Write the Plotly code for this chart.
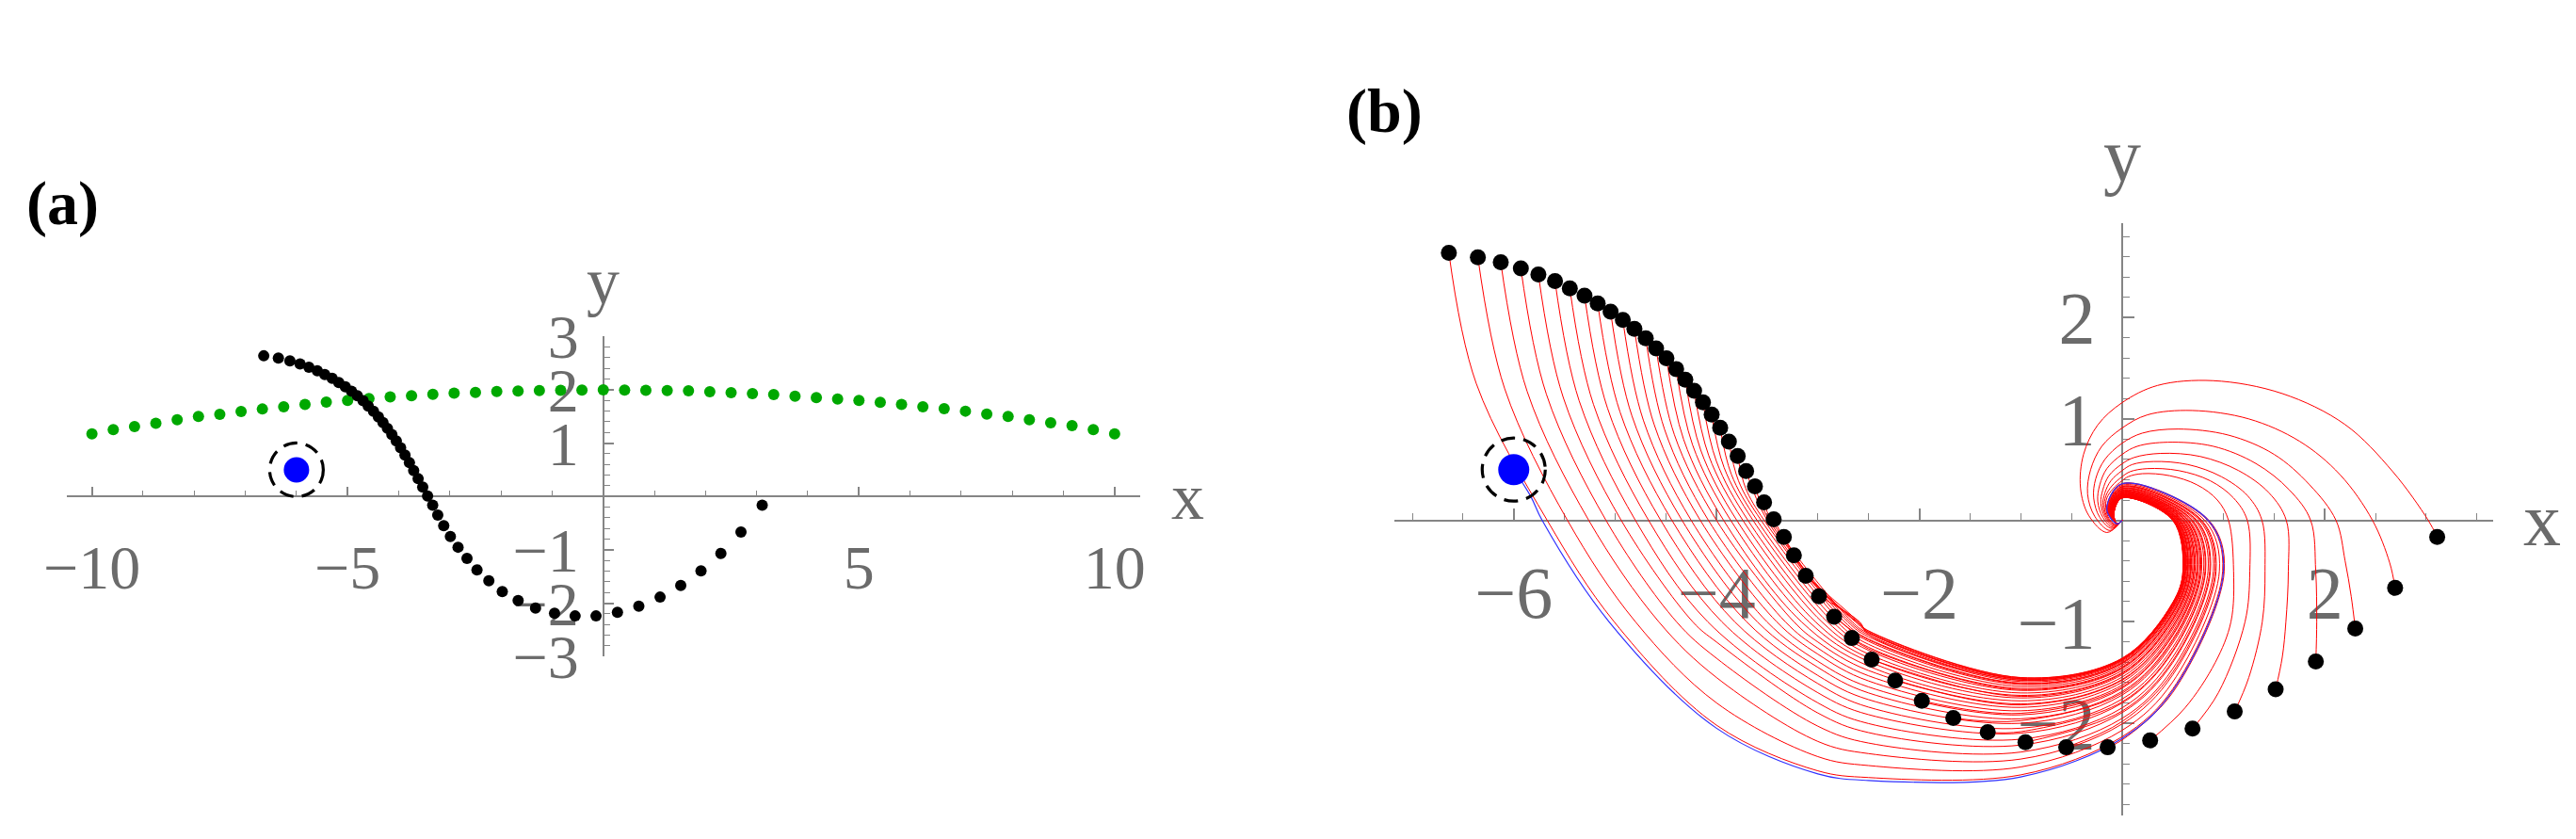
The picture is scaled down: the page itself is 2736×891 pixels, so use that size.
import plotly.graph_objects as go

W, H = 2736, 891

# ---------------- data ----------------
BLACK_X = [-6.640, -6.354, -6.128, -5.930, -5.757, -5.593, -5.447, -5.302, -5.172, -5.045,
           -4.924, -4.810, -4.698, -4.596, -4.494, -4.398, -4.308, -4.221, -4.134, -4.048,
           -3.964, -3.878, -3.791, -3.708, -3.621, -3.531, -3.436, -3.336, -3.237, -3.120,
           -2.990, -2.840, -2.665, -2.470, -2.238, -1.975, -1.665, -1.325, -0.953, -0.551,
           -0.142, 0.277, 0.695, 1.111, 1.515, 1.911, 2.300, 2.693, 3.108]
BLACK_Y = [2.637, 2.594, 2.544, 2.485, 2.423, 2.358, 2.287, 2.216, 2.138, 2.058,
           1.975, 1.888, 1.795, 1.696, 1.597, 1.492, 1.386, 1.278, 1.163, 1.043,
           0.913, 0.777, 0.634, 0.486, 0.334, 0.178, 0.009, -0.164, -0.346, -0.548,
           -0.749, -0.950, -1.161, -1.374, -1.579, -1.780, -1.950, -2.089, -2.188, -2.238,
           -2.238, -2.170, -2.054, -1.885, -1.665, -1.393, -1.068, -0.666, -0.164]

GREEN_X = [-10.0, -9.583, -9.167, -8.75, -8.333, -7.917, -7.5, -7.083, -6.667, -6.25,
           -5.833, -5.417, -5.0, -4.583, -4.167, -3.75, -3.333, -2.917, -2.5, -2.083,
           -1.667, -1.25, -0.833, -0.417, 0.0, 0.417, 0.833, 1.25, 1.667, 2.083,
           2.5, 2.917, 3.333, 3.75, 4.167, 4.583, 5.0, 5.417, 5.833, 6.25,
           6.667, 7.083, 7.5, 7.917, 8.333, 8.75, 9.167, 9.583, 10.0]
GREEN_Y = [1.176, 1.253, 1.312, 1.371, 1.441, 1.500, 1.540, 1.594, 1.640, 1.682,
           1.724, 1.768, 1.800, 1.838, 1.868, 1.890, 1.915, 1.938, 1.950, 1.968,
           1.978, 1.988, 1.992, 1.996, 2.000, 1.996, 1.992, 1.988, 1.982, 1.965,
           1.947, 1.929, 1.912, 1.882, 1.853, 1.829, 1.800, 1.765, 1.724, 1.682,
           1.647, 1.600, 1.547, 1.500, 1.441, 1.382, 1.329, 1.253, 1.176]

BLUE_X = [-6.0]
BLUE_Y = [0.5]

# Left family of trajectories: index 0 = blue point, 1..41 = black dots 1..41
START_X = BLUE_X + BLACK_X[:41]
START_Y = BLUE_Y + BLACK_Y[:41]
N = None
MID_X = [-5.83, -6.37, -6.089, -5.868, -5.678, -5.512, -5.355, -5.214, -5.076, -4.952, -4.834,
         -4.722, -4.615, -4.513, -4.417, -4.325, -4.237, -4.156, -4.077, -4.001, -3.926,
         -3.855, -3.783, -3.713, N, N, N, -3.09, -3.05, -3.0, N,
         N, N, N, N, N, N, N, N, N, N, N]
MID_Y = [0.232, 1.35, 1.297, 1.272, 1.243, 1.212, 1.179, 1.144, 1.108, 1.069, 1.029,
         0.988, 0.944, 0.898, 0.848, 0.799, 0.746, 0.693, 0.639, 0.582, 0.522,
         0.457, 0.389, 0.317, N, N, N, -0.572, -0.60, -0.66, N,
         N, N, N, N, N, N, N, N, N, N, N]
# x where each curve crosses y = 0 (left side)
X_AT_Y0 = [-5.72, -5.67, -5.47, -5.26, -5.09, -4.94, -4.80, -4.67, -4.55, -4.44, -4.34,
           -4.25, -4.16, -4.08, -4.00, -3.93, -3.86, -3.80, -3.74, -3.69, -3.64,
           -3.60, -3.56, -3.53, -3.50, -3.48, -3.46, N, N, N, N,
           N, N, N, N, N, N, N, N, N, N, N]
# x where each curve crosses y = -1
X_AT_YM1 = [-5.06, -5.01, -4.80, -4.57, -4.395, -4.235, -4.087, -3.948, -3.821, -3.704, -3.598,
            -3.503, -3.407, -3.322, -3.237, -3.163, -3.089, -3.025, -2.962, -2.908, -2.855,
            -2.813, -2.77, -2.738, -2.706, -2.684, -2.662, -2.63, -2.62, -2.61, -2.60,
            -2.59, N, N, N, N, N, N, N, N, N, N]
# y at x = -4
Y_AT_XM4 = [-2.05, -2.02, -1.80, -1.55, -1.36, -1.20] + [N] * 36
# y at x = -3
Y_AT_XM3 = [-2.50, -2.47, -2.33, -2.18, -2.03, -1.90, -1.80, -1.70, -1.61, -1.53, -1.45,
            -1.39, -1.32, -1.26, -1.20] + [N] * 27
# y at x = -2.5
Y_AT_XM25 = [-2.565, -2.536, -2.418, -2.300, -2.196, -2.093, -2.004, -1.916, -1.842, -1.768, -1.702,
             -1.643, -1.584, -1.533, -1.481, -1.437, -1.392, -1.356, -1.319, -1.282, -1.252,
             -1.223, -1.193, -1.171, -1.149, -1.131, -1.115, -1.105, -1.090, -1.093, -1.105,
             -1.127, -1.179, -1.267, N, N, N, N, N, N, N, N]
# y at x = -1
Y_AT_XM1 = [-2.53, -2.51, -2.432, -2.354, -2.285, -2.216, -2.158, -2.099, -2.05, -2.001, -1.957,
            -1.918, -1.878, -1.844, -1.81, -1.78, -1.751, -1.726, -1.702, -1.677, -1.658,
            -1.638, -1.619, -1.604, -1.589, -1.577, -1.567, -1.56, -1.55, -1.552, -1.56,
            -1.575, -1.609, -1.668, -1.736, -1.82, -1.903, -1.976, -2.084, N, N, N]
# y at x = 0 (bottom)
Y_AT_X0B = [-2.15, -2.134, -2.071, -2.008, -1.953, -1.897, -1.85, -1.802, -1.763, -1.723, -1.688,
            -1.656, -1.625, -1.597, -1.569, -1.546, -1.522, -1.502, -1.482, -1.463, -1.447,
            -1.431, -1.415, -1.403, -1.392, -1.382, -1.373, -1.368, -1.36, -1.362, -1.368,
            -1.38, -1.407, -1.455, -1.51, -1.577, -1.644, -1.704, -1.79, -1.881, -1.984, -2.166]
# y at x = 0.5 (rising side)
Y_AT_X05 = [-1.68, -1.663, -1.593, -1.523, -1.463, -1.402, -1.349, -1.297, -1.254, -1.21, -1.171,
            -1.136, -1.101, -1.071, -1.041, -1.014, -0.988, -0.967, -0.945, -0.923, -0.906,
            -0.888, -0.871, -0.858, -0.845, -0.834, -0.825, -0.819, -0.81, -0.812, -0.819,
            -0.832, -0.862, -0.914, -0.975, -1.049, -1.123, -1.188, -1.284, -1.384, -1.497, -1.697]
# x at y = -0.5 (right side)
X_AT_YM05 = [1.0, 0.992, 0.96, 0.928, 0.90, 0.872, 0.848, 0.824, 0.804, 0.784, 0.766,
             0.75, 0.734, 0.72, 0.706, 0.694, 0.682, 0.672, 0.662, 0.652, 0.644,
             0.636, 0.628, 0.622, 0.616, 0.611, 0.607, 0.604, 0.60, 0.601, 0.604,
             0.61, 0.624, 0.648, 0.676, 0.71, 0.744, 0.774, 0.818, 0.864, 0.916, 1.008]
# x at y = 0 (right side)
X_AT_Y0R = [0.85, 0.843, 0.815, 0.787, 0.763, 0.738, 0.717, 0.696, 0.679, 0.661, 0.645,
            0.631, 0.617, 0.605, 0.593, 0.582, 0.572, 0.563, 0.554, 0.546, 0.539,
            0.532, 0.526, 0.519, 0.514, 0.51, 0.506, 0.504, 0.50, 0.501, 0.504,
            0.509, 0.521, 0.542, 0.567, 0.596, 0.626, 0.652, 0.691, 0.731, 0.777, 0.857]
# y at x = 0 (top)
Y_AT_X0T = [0.36, 0.357, 0.346, 0.335, 0.325, 0.315, 0.307, 0.298, 0.291, 0.284, 0.278,
            0.273, 0.267, 0.262, 0.257, 0.253, 0.249, 0.245, 0.242, 0.238, 0.235,
            0.233, 0.23, 0.228, 0.226, 0.224, 0.222, 0.221, 0.22, 0.22, 0.221,
            0.224, 0.228, 0.237, 0.247, 0.259, 0.27, 0.281, 0.296, 0.312, 0.331, 0.363]
LEFT_X = [-0.15, -0.149, -0.143, -0.137, -0.133, -0.128, -0.123, -0.119, -0.116, -0.112, -0.109,
          -0.106, -0.103, -0.101, -0.099, -0.096, -0.094, -0.093, -0.091, -0.089, -0.088,
          -0.086, -0.085, -0.084, -0.083, -0.082, -0.081, -0.081, -0.08, -0.08, -0.081,
          -0.082, -0.084, -0.088, -0.093, -0.099, -0.105, -0.11, -0.118, -0.126, -0.135, -0.151]
LEFT_Y = [0.11, 0.109, 0.106, 0.103, 0.10, 0.097, 0.095, 0.092, 0.09, 0.088, 0.087,
          0.085, 0.083, 0.082, 0.081, 0.079, 0.078, 0.077, 0.076, 0.075, 0.074,
          0.074, 0.073, 0.072, 0.072, 0.071, 0.071, 0.07, 0.07, 0.07, 0.07,
          0.071, 0.072, 0.075, 0.078, 0.081, 0.084, 0.087, 0.092, 0.096, 0.102, 0.111]
END_X = [-0.05, 0.0]
END_Y = [-0.035, 0.0]

# Section lines on which the readings above were taken
SEC_Y0, SEC_YM1, SEC_YM05 = 0.0, -1.0, -0.5
SEC_XM4, SEC_XM3, SEC_XM25, SEC_XM1, SEC_X0, SEC_X05 = -4.0, -3.0, -2.5, -1.0, 0.0, 0.5

# Right family (dots 42..49): waypoints after each start dot
RIGHT_X = [
    [0.62, 0.92, 1.074, 1.10, 1.05, 0.94, 0.74, 0.47, 0.2, 0.06, 0.0, -0.09, -0.15, -0.16, -0.13, -0.06, 0.0],
    [0.95, 1.213, 1.26, 1.235, 1.1, 0.87, 0.56, 0.25, 0.08, 0.0, -0.1, -0.16, -0.175, -0.14, -0.06, 0.0],
    [1.25, 1.383, 1.41, 1.38, 1.24, 0.98, 0.65, 0.31, 0.1, 0.0, -0.11, -0.17, -0.19, -0.15, -0.07, 0.0],
    [1.58, 1.616, 1.64, 1.62, 1.45, 1.15, 0.77, 0.38, 0.12, 0.0, -0.13, -0.19, -0.21, -0.17, -0.08, 0.0],
    [1.92, 1.91, 1.86, 1.65, 1.32, 0.9, 0.45, 0.15, 0.0, -0.15, -0.22, -0.24, -0.19, -0.09, 0.0],
    [2.26, 2.2, 2.11, 1.85, 1.5, 1.05, 0.55, 0.2, 0.0, -0.17, -0.26, -0.28, -0.22, -0.1, 0.0],
    [2.64, 2.47, 2.15, 1.75, 1.25, 0.69, 0.25, 0.0, -0.2, -0.31, -0.34, -0.27, -0.12, 0.0],
    [3.02, 2.67, 2.2, 1.58, 0.9, 0.35, 0.0, -0.24, -0.38, -0.41, -0.33, -0.15, 0.0],
]
RIGHT_Y = [
    [-1.85, -1.4, -1.0, -0.5, 0.0, 0.2, 0.35, 0.44, 0.46, 0.43, 0.39, 0.31, 0.22, 0.12, 0.02, -0.04, 0.0],
    [-1.7, -1.0, -0.5, 0.0, 0.22, 0.39, 0.49, 0.51, 0.48, 0.43, 0.34, 0.24, 0.13, 0.02, -0.05, 0.0],
    [-1.55, -1.0, -0.5, 0.0, 0.24, 0.43, 0.55, 0.58, 0.55, 0.49, 0.39, 0.27, 0.15, 0.02, -0.05, 0.0],
    [-1.35, -1.0, -0.5, 0.0, 0.27, 0.49, 0.63, 0.66, 0.62, 0.557, 0.44, 0.3, 0.17, 0.03, -0.06, 0.0],
    [-1.0, -0.5, 0.0, 0.3, 0.56, 0.73, 0.77, 0.73, 0.65, 0.51, 0.35, 0.19, 0.03, -0.07, 0.0],
    [-0.75, -0.4, 0.0, 0.35, 0.65, 0.84, 0.90, 0.86, 0.76, 0.6, 0.41, 0.22, 0.03, -0.08, 0.0],
    [-0.42, 0.0, 0.45, 0.78, 1.0, 1.083, 1.04, 0.91, 0.73, 0.5, 0.26, 0.04, -0.1, 0.0],
    [0.0, 0.48, 0.944, 1.25, 1.377, 1.33, 1.16, 0.94, 0.65, 0.32, 0.05, -0.12, 0.0],
]

# ---------------- styling ----------------
AX_COL = "#858585"
LBL_COL = "#6b6b6b"
SERIF = "Liberation Serif"


def left_curve(i):
    xs, ys = [START_X[i]], [START_Y[i]]

    def add(x, y):
        if x is not None and y is not None:
            xs.append(x)
            ys.append(y)

    add(MID_X[i], MID_Y[i])
    add(X_AT_Y0[i], SEC_Y0 if X_AT_Y0[i] is not None else None)
    add(X_AT_YM1[i], SEC_YM1 if X_AT_YM1[i] is not None else None)
    add(SEC_XM4 if Y_AT_XM4[i] is not None else None, Y_AT_XM4[i])
    add(SEC_XM3 if Y_AT_XM3[i] is not None else None, Y_AT_XM3[i])
    add(SEC_XM25 if Y_AT_XM25[i] is not None else None, Y_AT_XM25[i])
    add(SEC_XM1 if Y_AT_XM1[i] is not None else None, Y_AT_XM1[i])
    add(SEC_X0, Y_AT_X0B[i])
    add(SEC_X05, Y_AT_X05[i])
    add(X_AT_YM05[i], SEC_YM05)
    add(X_AT_Y0R[i], SEC_Y0)
    add(SEC_X0, Y_AT_X0T[i])
    add(LEFT_X[i], LEFT_Y[i])
    for ex, ey in zip(END_X, END_Y):
        add(ex, ey)
    return xs, ys


fig = go.Figure()

# ---- panel (a) ----
fig.add_trace(go.Scatter(x=GREEN_X, y=GREEN_Y, mode="markers", xaxis="x", yaxis="y",
                         marker=dict(size=12, color="#00a800"), cliponaxis=False))
fig.add_trace(go.Scatter(x=BLACK_X, y=BLACK_Y, mode="markers", xaxis="x", yaxis="y",
                         marker=dict(size=12, color="black"), cliponaxis=False))
fig.add_trace(go.Scatter(x=BLUE_X, y=BLUE_Y, mode="markers", xaxis="x", yaxis="y",
                         marker=dict(size=27, color="#0000ff"), cliponaxis=False))

# ---- panel (b) ----
for i in range(1, len(START_X)):
    xs, ys = left_curve(i)
    fig.add_trace(go.Scatter(x=xs, y=ys, mode="lines", xaxis="x2", yaxis="y2",
                             line=dict(color="#ff0000", width=1, shape="spline"),
                             cliponaxis=False))
for k in range(len(RIGHT_X)):
    idx = 41 + k
    xs = [BLACK_X[idx]] + RIGHT_X[k]
    ys = [BLACK_Y[idx]] + RIGHT_Y[k]
    fig.add_trace(go.Scatter(x=xs, y=ys, mode="lines", xaxis="x2", yaxis="y2",
                             line=dict(color="#ff0000", width=1, shape="spline"),
                             cliponaxis=False))
bx, by = left_curve(0)
fig.add_trace(go.Scatter(x=bx, y=by, mode="lines", xaxis="x2", yaxis="y2",
                         line=dict(color="#3030ff", width=1.2, shape="spline"),
                         cliponaxis=False))
fig.add_trace(go.Scatter(x=BLACK_X, y=BLACK_Y, mode="markers", xaxis="x2", yaxis="y2",
                         marker=dict(size=17, color="black"), cliponaxis=False))
fig.add_trace(go.Scatter(x=BLUE_X, y=BLUE_Y, mode="markers", xaxis="x2", yaxis="y2",
                         marker=dict(size=33, color="#0000ff"), cliponaxis=False))

# dashed rings round the blue point (pixel-sized, anchored on the data point)
for xr, yr, rad in (("x", "y", 28.5), ("x2", "y2", 33.5)):
    fig.add_shape(type="circle", xref=xr, yref=yr, xsizemode="pixel", ysizemode="pixel",
                  xanchor=BLUE_X[0], yanchor=BLUE_Y[0], x0=-rad, x1=rad, y0=-rad, y1=rad,
                  line=dict(color="black", width=3.2, dash="15px,9px"), layer="above")

MINUS = "\u2212"


def lab(v):
    s = ("%g" % abs(v))
    return (MINUS + s) if v < 0 else s


XT_A = [-10, -5, 5, 10]
XM_A = [v for v in range(-10, 11) if v % 5 != 0]
YT_A = [-3, -2, -1, 1, 2, 3]
YM_A = [round(-3 + 0.2 * k, 1) for k in range(31) if k % 5 != 0]
XT_B = [-6, -4, -2, 2]
XM_B = [round(-7 + 0.5 * k, 1) for k in range(22) if (-7 + 0.5 * k) not in (-6, -4, -2, 0, 2)]
YT_B = [-2, -1, 1, 2]
YM_B = [round(-2.8 + 0.2 * k, 1) for k in range(29) if abs(round(-2.8 + 0.2 * k, 1)) % 1 != 0]


def axis(domain, rng, pos, tv, mv, fsize, major_len, minor_len, standoff):
    return dict(domain=domain, range=rng, autorange=False, anchor="free", position=pos,
                automargin=False,
                showline=True, linecolor=AX_COL, linewidth=1.6,
                ticks="inside", ticklen=major_len, tickwidth=1.6, tickcolor=AX_COL,
                tickmode="array", tickvals=tv, ticktext=[lab(v) for v in tv],
                tickfont=dict(family=SERIF, size=fsize, color=LBL_COL),
                ticklabelstandoff=standoff,
                minor=dict(tickmode="array", tickvals=mv, ticks="inside", ticklen=minor_len,
                           tickwidth=1.3, tickcolor=AX_COL, showgrid=False),
                showgrid=False, zeroline=False, layer="below traces", fixedrange=True)


# pixel geometry -> paper fractions
A_X0, A_X1, A_YT, A_YB = 62.5, 1203.0, 349.3, 689.3
B_X0, B_X1, B_YT, B_YB = 1472.7, 2640.0, 229.0, 858.0
A_RANGE_X, A_RANGE_Y = [-10.5, 10.5], [-3.0, 3.0]
B_RANGE_X, B_RANGE_Y = [-7.18, 3.66], [-2.91, 2.93]


def frac_x(px):
    return px / W


def frac_y(py):
    return 1 - py / H


a_ypos = frac_y(A_YB) + (0 - A_RANGE_Y[0]) / (A_RANGE_Y[1] - A_RANGE_Y[0]) * (frac_y(A_YT) - frac_y(A_YB))
a_xpos = frac_x(A_X0) + (0 - A_RANGE_X[0]) / (A_RANGE_X[1] - A_RANGE_X[0]) * (frac_x(A_X1) - frac_x(A_X0))
b_ypos = frac_y(B_YB) + (0 - B_RANGE_Y[0]) / (B_RANGE_Y[1] - B_RANGE_Y[0]) * (frac_y(B_YT) - frac_y(B_YB))
b_xpos = frac_x(B_X0) + (0 - B_RANGE_X[0]) / (B_RANGE_X[1] - B_RANGE_X[0]) * (frac_x(B_X1) - frac_x(B_X0))

fig.update_layout(
    template="none",
    width=W, height=H, margin=dict(l=0, r=0, t=0, b=0, pad=0, autoexpand=False),
    paper_bgcolor="white", plot_bgcolor="rgba(0,0,0,0)", showlegend=False,
    xaxis=axis([frac_x(A_X0), frac_x(A_X1)], A_RANGE_X, a_ypos, XT_A, XM_A, 66, 10, 6, 18),
    yaxis=axis([frac_y(A_YB), frac_y(A_YT)], A_RANGE_Y, a_xpos, YT_A, YM_A, 66, 10, 6, 12),
    xaxis2=axis([frac_x(B_X0), frac_x(B_X1)], B_RANGE_X, b_ypos, XT_B, XM_B, 78, 12, 7, 9),
    yaxis2=axis([frac_y(B_YB), frac_y(B_YT)], B_RANGE_Y, b_xpos, YT_B, YM_B, 78, 12, 7, 12),
)

ann = [
    dict(text="x", x=frac_x(1253), y=frac_y(519), font=dict(family=SERIF, size=70, color=LBL_COL)),
    dict(text="y", x=a_xpos, y=frac_y(290), font=dict(family=SERIF, size=70, color=LBL_COL)),
    dict(text="x", x=frac_x(2692), y=frac_y(544), font=dict(family=SERIF, size=80, color=LBL_COL)),
    dict(text="y", x=b_xpos, y=frac_y(157), font=dict(family=SERIF, size=80, color=LBL_COL)),
    dict(text="<b>(a)</b>", x=frac_x(58), y=frac_y(208), font=dict(family=SERIF, size=66, color="black")),
    dict(text="<b>(b)</b>", x=frac_x(1462), y=frac_y(110), font=dict(family=SERIF, size=66, color="black")),
]
for a in ann:
    a.update(xref="paper", yref="paper", showarrow=False, xanchor="center", yanchor="middle")
    fig.add_annotation(**a)

fig.write_html("out.html")
